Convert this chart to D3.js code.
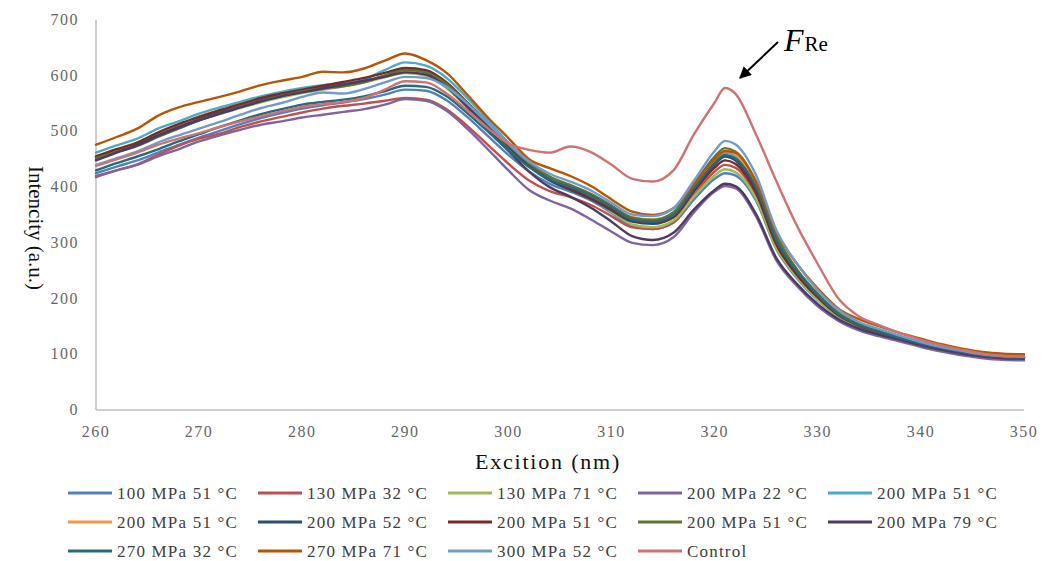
<!DOCTYPE html>
<html><head><meta charset="utf-8">
<script src="https://cdn.jsdelivr.net/npm/d3@7"></script>
<style>body{margin:0;background:#fff}svg{display:block}</style>
</head><body>
<svg id="chart" width="1042" height="561"></svg>
<script>
const wavelengths = [260,262,264,266,268,270,272,274,276,278,280,282,284,286,288,290,292,294,296,298,300,302,304,306,308,310,312,314,316,318,320,321,322,324,326,328,330,332,334,336,338,340,342,344,346,348,350];
const seriesNames = ["100 MPa 51 \u00B0C","130 MPa 32 \u00B0C","130 MPa 71 \u00B0C","200 MPa 22 \u00B0C","200 MPa 51 \u00B0C","200 MPa 51 \u00B0C","200 MPa 52 \u00B0C","200 MPa 51 \u00B0C","200 MPa 51 \u00B0C","200 MPa 79 \u00B0C","270 MPa 32 \u00B0C","270 MPa 71 \u00B0C","300 MPa 52 \u00B0C","Control"];
const seriesColors = ["#4F81BD","#C0504D","#9BBB59","#8064A2","#4BACC6","#F79646","#2C4D75","#772C2A","#5F7530","#4D3B62","#276A7C","#B65708","#729ACA","#CD7371"];

const s100_51 = [425,437,448,462,476,489,501,513,524,533,541,547,552,558,566,575,573,556,526,492,458,428,406,392,376,354,330,325,336,378,415,425,421,376,288,236,197,167,149,137,127,117,109,102,97,94,92];
const s130_32 = [418,430,441,458,474,487,496,508,518,526,534,541,546,550,555,560,557,540,510,476,442,412,393,382,368,348,328,325,337,385,428,440,435,386,295,242,201,169,150,138,128,118,110,103,98,95,93];
const s130_71 = [452,464,476,492,506,520,531,542,552,561,569,575,581,588,597,605,600,578,543,506,469,436,412,396,378,356,333,328,340,383,421,432,427,380,290,238,198,168,150,138,128,118,110,103,98,95,93];
const s200_22 = [420,430,440,455,468,482,493,503,512,518,525,530,535,540,548,558,555,537,505,468,430,395,376,362,342,320,300,296,310,355,392,402,398,348,268,222,186,160,143,132,123,113,105,98,93,90,89];
const s200_51a = [462,475,487,505,518,532,543,553,563,571,578,583,586,593,610,624,618,596,560,520,480,444,416,400,384,364,344,340,352,400,447,462,456,403,308,250,208,175,155,142,131,121,112,105,99,96,94];
const s200_51b = [455,468,480,497,512,527,538,549,559,567,574,579,584,590,598,606,602,580,546,510,474,442,418,402,386,366,346,342,354,402,450,465,459,405,310,252,210,176,156,143,132,122,113,106,100,97,96];
const s200_52 = [450,463,476,493,508,522,534,545,556,565,572,578,584,590,600,612,607,583,548,510,472,438,412,395,378,358,338,334,346,395,440,455,448,395,300,245,205,172,153,140,130,120,112,105,100,97,96];
const s200_51c = [455,468,480,498,513,526,538,549,560,568,575,582,589,596,605,614,610,588,552,514,476,441,414,397,380,360,340,336,346,392,435,448,442,390,296,242,202,170,151,139,129,119,111,104,99,96,95];
const s200_51d = [452,463,474,490,505,520,532,544,555,564,572,577,581,588,600,610,606,585,551,514,476,443,419,404,388,367,345,341,355,405,455,470,464,410,312,252,208,174,154,141,130,120,111,104,99,96,95];
const s200_79 = [448,462,475,492,507,520,532,543,554,563,570,577,584,591,598,606,602,580,544,505,465,428,400,383,363,338,312,305,318,360,395,406,402,352,272,226,190,163,146,135,126,116,108,101,96,93,92];
const s270_32 = [430,443,455,468,482,495,508,520,531,540,548,553,557,563,572,582,580,563,533,500,466,436,414,400,385,364,342,338,350,398,443,458,452,400,304,248,206,172,152,140,129,119,111,104,98,95,94];
const s270_71 = [476,490,505,528,543,553,562,572,583,591,598,607,606,613,627,640,628,605,566,525,488,450,434,420,402,378,356,350,362,405,450,465,462,410,318,262,218,182,163,150,138,128,118,110,104,101,100];
const s300_52 = [440,452,464,480,493,505,517,530,542,551,562,570,568,576,588,598,596,580,550,515,478,446,424,410,394,372,351,348,362,412,465,483,477,422,322,262,215,180,158,145,133,122,113,106,100,97,96];
const sControl = [438,450,462,476,487,497,508,518,527,536,544,549,553,560,575,590,588,568,538,506,478,467,462,473,463,440,415,410,430,495,552,578,568,495,410,330,262,200,168,152,138,126,116,108,101,97,96];

const seriesValues = [s100_51,s130_32,s130_71,s200_22,s200_51a,s200_51b,s200_52,s200_51c,s200_51d,s200_79,s270_32,s270_71,s300_52,sControl];
const xTicks = [260,270,280,290,300,310,320,330,340,350];
const yTicks = [0,100,200,300,400,500,600,700];

const svg = d3.select("#chart");
const x = d3.scaleLinear().domain([260,350]).range([96,1024]);
const y = d3.scaleLinear().domain([0,700]).range([410,20]);

// axes
const axisColor = "#BFBFBF";
svg.append("line").attr("x1",x(260)).attr("x2",x(260)).attr("y1",y(0)).attr("y2",y(700)).attr("stroke",axisColor).attr("stroke-width",1.5);
svg.append("line").attr("x1",x(260)).attr("x2",x(350)).attr("y1",y(0)).attr("y2",y(0)).attr("stroke",axisColor).attr("stroke-width",1.5);

const tickFont = "'Liberation Serif', 'Times New Roman', serif";
svg.append("g").selectAll("text").data(xTicks).join("text")
  .attr("x",d=>x(d)).attr("y",y(0)+27).attr("text-anchor","middle")
  .attr("font-family",tickFont).attr("font-size",16).attr("letter-spacing",1.5)
  .attr("fill","#666").text(d=>d);
svg.append("g").selectAll("text").data(yTicks).join("text")
  .attr("x",79).attr("y",d=>y(d)+5).attr("text-anchor","end")
  .attr("font-family",tickFont).attr("font-size",16).attr("letter-spacing",1.5)
  .attr("fill","#666").text(d=>d);

// axis titles
svg.append("text").attr("x",548).attr("y",469).attr("text-anchor","middle")
  .attr("font-family",tickFont).attr("font-size",22).attr("letter-spacing",1.8)
  .attr("fill","#111").text("Excition (nm)");
svg.append("text").attr("transform","translate(29,228) rotate(90)").attr("text-anchor","middle")
  .attr("font-family",tickFont).attr("font-size",21)
  .attr("fill","#111").text("Intencity (a.u.)");

// lines
const line = d3.line().x((d,i)=>x(wavelengths[i])).y(d=>y(d)).curve(d3.curveMonotoneX);
svg.append("g").selectAll("path").data(seriesValues).join("path")
  .attr("d",d=>line(d)).attr("fill","none")
  .attr("stroke",(d,i)=>seriesColors[i]).attr("stroke-width",2.4)
  .attr("stroke-linejoin","round").attr("stroke-linecap","round");

// annotation
const defs = svg.append("defs");
defs.append("marker").attr("id","arrow").attr("viewBox","0 0 10 10").attr("refX",9).attr("refY",5)
  .attr("markerWidth",6).attr("markerHeight",6).attr("orient","auto")
  .append("path").attr("d","M0,0 L10,5 L0,10 z").attr("fill","#000");
svg.append("line").attr("x1",778).attr("y1",42).attr("x2",740).attr("y2",78)
  .attr("stroke","#000").attr("stroke-width",2).attr("marker-end","url(#arrow)");
const ann = svg.append("text").attr("x",784).attr("y",51).attr("font-family",tickFont).attr("fill","#000");
ann.append("tspan").attr("font-style","italic").attr("font-size",32).text("F");
ann.append("tspan").attr("font-size",21).attr("dx",1).text("Re");

// legend
const legendFont = "'Liberation Serif', 'Times New Roman', serif";
const lg = svg.append("g");
seriesNames.forEach((name,i)=>{
  const col = i%5, row = Math.floor(i/5);
  const lx = 68 + col*190, ly = 493 + row*29;
  lg.append("line").attr("x1",lx).attr("x2",lx+44).attr("y1",ly).attr("y2",ly)
    .attr("stroke",seriesColors[i]).attr("stroke-width",3);
  lg.append("text").attr("x",lx+49).attr("y",ly+6).attr("font-family",legendFont)
    .attr("font-size",17).attr("letter-spacing",1.2).attr("fill","#404040").text(name);
});
</script>
</body></html>
